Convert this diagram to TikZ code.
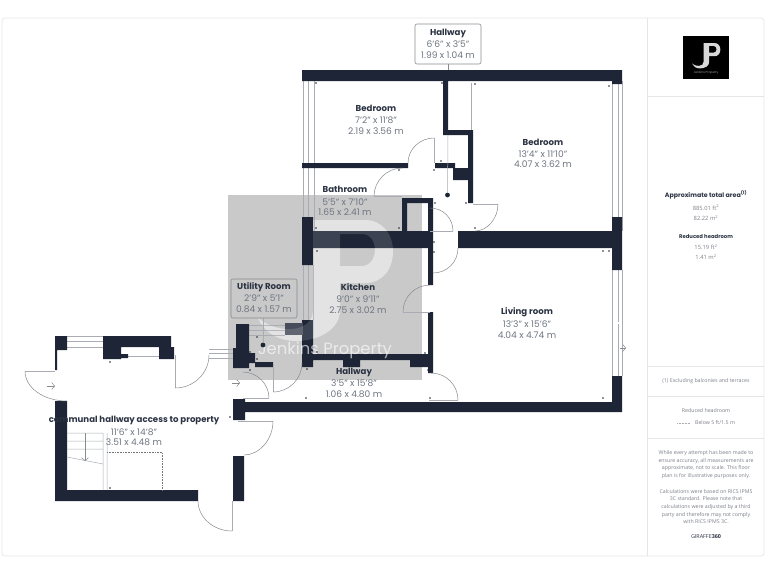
\documentclass[tikz,border=0pt]{standalone}
\usepackage{fontspec}
\setmainfont{Poppins}
\newfontfamily\notefont{Open Sans}
\usetikzlibrary{arrows.meta}
\definecolor{wallcol}{HTML}{1D2536}
\definecolor{titlecol}{HTML}{2B3342}
\definecolor{dimcol}{HTML}{6E7580}
\definecolor{linecol}{HTML}{A9ACB2}
\definecolor{framecol}{HTML}{E6E6E6}
\definecolor{notecol}{HTML}{7C8088}
\tikzset{
  wall/.style={fill=wallcol},
  windowline/.style={draw=linecol,line width=.5pt},
  doorleaf/.style={draw=linecol,line width=1pt},
  doorarc/.style={draw=linecol!80!black,line width=.5pt},
  entryarrow/.style={draw=linecol!80!black,line width=.5pt,-{Straight Barb[length=3pt,width=7pt]}},
  tagbox/.style={draw=linecol!80!black,rounded corners=2pt,line width=.6pt},
  roomtitle/.style={text=titlecol,font=\fontsize{8.6}{10}\selectfont\bfseries,inner sep=0pt},
  roomdim/.style={text=dimcol,font=\fontsize{9.1}{11}\selectfont,inner sep=0pt},
  panelhead/.style={text=titlecol,font=\fontsize{6.3}{8}\selectfont\bfseries,inner sep=0pt},
  panelsub/.style={text=titlecol,font=\fontsize{5.3}{7}\selectfont\bfseries,inner sep=0pt},
  panelval/.style={text=notecol,font=\notefont\fontsize{5.8}{7}\selectfont,inner sep=0pt},
  note/.style={text=notecol,align=center,font=\notefont\fontsize{5.25}{7.6}\selectfont,inner sep=0pt},
  jpmark/.pic={
    \path[jpfill] (313,220) -- (365,220) .. controls (382,220) and (393,234) .. (393,251)
      .. controls (393,270) and (382,283) .. (365,283) -- (340,283) -- (340,310)
      .. controls (340,330) and (318,341) .. (296,341) .. controls (278,341) and (264,332) .. (258,318)
      .. controls (268,326) and (280,330) .. (292,329) .. controls (304,328) and (313,322) .. (313,310) -- cycle
      (340,234) -- (340,266) -- (362,266) .. controls (370,266) and (375,258) .. (375,250)
      .. controls (375,241) and (370,234) .. (362,234) -- cycle;
  }
}
\begin{document}
\begin{tikzpicture}[x=1pt,y=-1pt]
\useasboundingbox (0,0) rectangle (768,576);
% frame and side panel
\draw[framecol,line width=.7pt,rounded corners=3pt] (2,18) rectangle (764,556);
\path[draw=framecol,line width=.7pt]
  (647,18) -- (647,556)
  (647,96) -- (764,96)
  (647,366) -- (764,366)
  (647,396) -- (764,396)
  (647,438) -- (764,438);
% watermark
\fill[black!21] (228,195) rectangle (422,380);
\pic[jpfill/.style={fill=white,fill opacity=.42,even odd rule}] {jpmark};
% windows
\path[windowline]
  (303,70) -- (303,231) (308,81) -- (308,231) (314,81) -- (314,231)
  (612,81) -- (612,231) (618,81) -- (618,231) (622,81) -- (622,231)
  (303,265) -- (303,320) (308,265) -- (308,320) (313,265) -- (313,320)
  (612,270) -- (612,376) (618,270) -- (618,322) (618,324) -- (618,376) (622,270) -- (622,376)
  (249,325) -- (285,325) (249,330) -- (285,330) (249,335) -- (285,335)
  (209,349) -- (233,349) (209,353) -- (233,353) (209,358) -- (233,358)
  (67,336) -- (103,336) (67,341) -- (103,341) (67,347) -- (103,347)
  (128,356) -- (159,356)
  (471,83) -- (471,130);
% walls
\path[wall]
  (302,70) rectangle (622,81)
  (302,217) rectangle (313,265)
  (612,81) rectangle (622,84)
  (612,217) rectangle (622,270)
  (612,376) rectangle (622,412)
  (243,402) rectangle (622,412)
  (458,231) rectangle (612,248)
  (313,231) rectangle (433,248)
  (302,163) rectangle (408,168)
  (443,81) rectangle (448,135)
  (443,130) rectangle (473,135)
  (468,130) rectangle (473,203)
  (453,168) rectangle (473,180)
  (435,163) rectangle (455,168)
  (402,198) rectangle (433,203)
  (402,198) rectangle (407,231)
  (428,203) rectangle (433,231)
  (428,248) rectangle (433,285)
  (428,312) rectangle (433,373)
  (307,354) rectangle (432,360)
  (343,360) rectangle (360,367)
  (410,360) rectangle (432,367)
  (302,320) rectangle (313,367)
  (236,324) rectangle (249,350)
  (233,348) rectangle (249,368)
  (249,353) rectangle (255,363)
  (255,362) rectangle (273,367)
  (55,336) rectangle (67,350)
  (103,336) rectangle (171,347)
  (103,347) rectangle (121,359)
  (121,354) rectangle (128,358)
  (159,347) rectangle (174,359)
  (55,350) rectangle (57,370)
  (55,401) rectangle (67,501)
  (55,490) rectangle (198,501)
  (233,456) rectangle (244,501)
  (233,399) rectangle (245,420);
\fill[wallcol!82!white] (285,323) rectangle (303,335);
\pic[jpfill/.style={fill=white,fill opacity=.14,even odd rule}] {jpmark};
\node[text=white,text opacity=.62,font=\fontsize{16.4}{18}\selectfont,inner sep=0pt] (jp_text) at (325,350) {Jenkins Property};
% doors
\path[doorleaf]
  (434,138) -- (434,163)
  (374,196) -- (402,196)
  (430,231) -- (453,231)
  (473,204) -- (498,204)
  (403,312) -- (430,312)
  (429,400) -- (458,400)
  (273,367) -- (273,392)
  (243,398) -- (269,398)
  (175,355) -- (175,388)
  (25,371) -- (55,371)
  (232,501) -- (232,531)
  (238,421) -- (273,421);
\path[doorarc]
  (434,138) .. controls (420,138) and (408,149) .. (408,163)
  (374,196) .. controls (374,181) and (387,168) .. (402,168)
  (430,208) .. controls (443,208) and (453,218) .. (453,231)
  (498,204) .. controls (498,219) and (487,231) .. (475,231)
  (433,273) .. controls (447,273) and (458,262) .. (458,248)
  (403,312) .. controls (403,297) and (415,285) .. (430,285)
  (431,373) .. controls (446,373) and (458,385) .. (458,400)
  (273,392) .. controls (289,392) and (302,379) .. (302,363)
  (269,398) .. controls (269,384) and (257,372) .. (243,372)
  (175,388) .. controls (194,388) and (209,373) .. (209,355)
  (25,371) .. controls (25,388) and (44,401) .. (67,401)
  (232,531) .. controls (213,531) and (198,517) .. (198,501)
  (273,421) .. controls (273,440) and (259,455) .. (244,455);
% entry arrows
\draw[entryarrow] (47,386) -- (55,386);
\draw[entryarrow] (232,383) -- (240,383);
\draw[entryarrow] (620,348) -- (626,348);
% stairs
\path[windowline]
  (67,433) -- (103,433) (67,441) -- (103,441) (67,449) -- (103,449) (67,457) -- (103,464)
  (103,433) -- (103,490) (107,433) -- (107,490);
\draw[entryarrow] (85,433) -- (85,461);
\draw[linecol!70!black,densely dotted,line width=.6pt] (107,452) -- (162,452) -- (162,490);
% hall line and dot
\node[fill=wallcol,circle,inner sep=1.7pt] (hall_dot) at (447.5,195) {};
\node[fill=wallcol,circle,inner sep=1.7pt] (util_dot) at (263,345) {};
\coordinate (hall_top) at (448,135);
\coordinate (util_top) at (263,318);
\draw[windowline] (hall_top) -- (hall_dot);
\draw[windowline] (util_top) -- (util_dot);
% corner marks
\foreach \mx/\my in {316/83,442/83,475/84,609/86,399/170,434/170,441/161,435/203,466/203,475/228,316/228,399/228,317/251,434/242,434/252,603/251,609/251,603/398,306/398,430/398,428/370,317/352,425/353,307/369,250/352,257/337,257/359,250/370,110/362,110/488,230/417}
  \fill[wallcol] (\mx,\my) circle (.8pt);
% room labels
\node[tagbox,minimum width=66pt,minimum height=40pt] (hall_box) at (448,44) {};
\coordinate (hall_wall) at (448,70);
\draw[tagbox] (hall_box) -- (hall_wall);
\node[tagbox,minimum width=66pt,minimum height=39pt] (util_box) at (264,298.5) {};
\node[roomtitle] (hall_t) at (448,33) {Hallway};
\node[roomdim] (hall_a) at (448,44) {6'6" x 3'5"};
\node[roomdim] (hall_b) at (448,55) {1.99 x 1.04 m};
\node[roomtitle] (bed_t) at (376,108) {Bedroom};
\node[roomdim] (bed_a) at (376,120) {7'2" x 11'8"};
\node[roomdim] (bed_b) at (376,131) {2.19 x 3.56 m};
\node[roomtitle] (bedb_t) at (543,142) {Bedroom};
\node[roomdim] (bedb_a) at (543,154) {13'4" x 11'10"};
\node[roomdim] (bedb_b) at (543,164) {4.07 x 3.62 m};
\node[roomtitle] (bath_t) at (345,189) {Bathroom};
\node[roomdim] (bath_a) at (345,202) {5'5" x 7'10"};
\node[roomdim] (bath_b) at (345,212) {1.65 x 2.41 m};
\node[roomtitle] (kit_t) at (358,287) {Kitchen};
\node[roomdim] (kit_a) at (358,299) {9'0" x 9'11"};
\node[roomdim] (kit_b) at (358,310) {2.75 x 3.02 m};
\node[roomtitle] (util_t) at (264,287) {Utility Room};
\node[roomdim] (util_a) at (264,298) {2'9" x 5'1"};
\node[roomdim] (util_b) at (264,309) {0.84 x 1.57 m};
\node[roomtitle] (hallb_t) at (354,372) {Hallway};
\node[roomdim] (hallb_a) at (354,383) {3'5" x 15'8"};
\node[roomdim] (hallb_b) at (354,394) {1.06 x 4.80 m};
\node[roomtitle] (liv_t) at (527,312) {Living room};
\node[roomdim] (liv_a) at (527,324) {13'3" x 15'6"};
\node[roomdim] (liv_b) at (527,335) {4.04 x 4.74 m};
\node[roomtitle] (com_t) at (134,420) {communal hallway access to property};
\node[roomdim] (com_a) at (134,432) {11'6" x 14'8"};
\node[roomdim] (com_b) at (134,442) {3.51 x 4.48 m};
% logo
\fill[black] (683,36) rectangle (729,79);
\pic[scale=.21,jpfill/.style={fill=white!85!black,even odd rule}] at (637.8,-3.2) {jpmark};
\node[text=white!60!black,font=\fontsize{3}{4}\selectfont,inner sep=0pt] (logo_text) at (706,72.5) {Jenkins Property};
% panel texts
\node[panelhead] (area_t) at (706,195) {Approximate total area\textsuperscript{(1)}};
\node[panelval] (area_a) at (706,207.5) {885.01 ft\textsuperscript{2}};
\node[panelval] (area_b) at (706,218) {82.22 m\textsuperscript{2}};
\node[panelsub] (red_t) at (706,236.5) {Reduced headroom};
\node[panelval] (red_a) at (706,247) {15.19 ft\textsuperscript{2}};
\node[panelval] (red_b) at (706,257) {1.41 m\textsuperscript{2}};
\node[note] (excl) at (706,381) {(1) Excluding balconies and terraces};
\node[note] (key_t) at (706,411) {Reduced headroom};
\node[note] (key_a) at (715,423) {Below 5 ft/1.5 m};
\coordinate (key_l) at (677,423);
\coordinate (key_r) at (690,423);
\draw[linecol,densely dotted,line width=.5pt] (key_l) -- (key_r);
\node[note] (para_a) at (706,464.5) {While every attempt has been made to\\ensure accuracy, all measurements are\\approximate, not to scale. This floor\\plan is for illustrative purposes only.};
\node[note] (para_b) at (706,506.5) {Calculations were based on RICS IPMS\\3C standard. Please note that\\calculations were adjusted by a third\\party and therefore may not comply\\with RICS IPMS 3C.};
\node[text=titlecol,font=\notefont\fontsize{5.4}{7}\selectfont,inner sep=0pt] (giraffe) at (706,537) {GIRAFFE\textbf{360}};
\end{tikzpicture}
\end{document}
